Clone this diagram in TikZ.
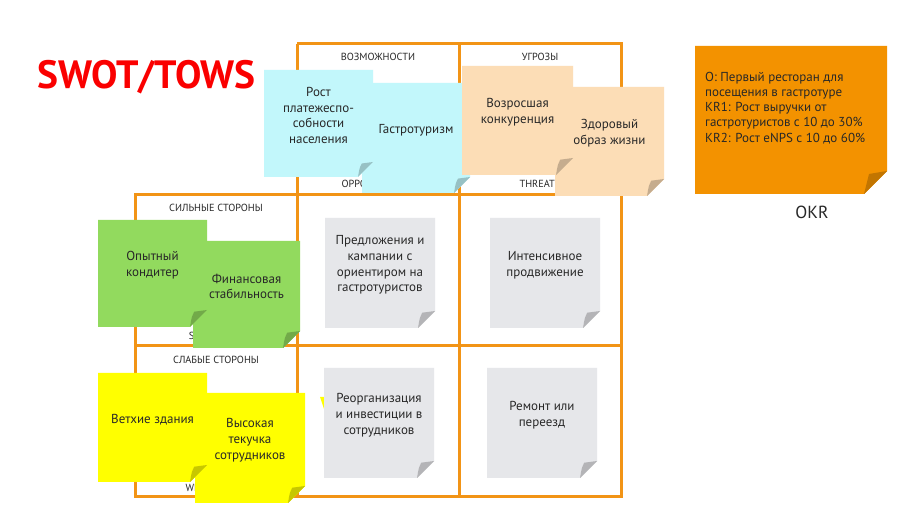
\documentclass[tikz,border=0pt]{standalone}
\usepackage{fontspec}
\setmainfont{PT Sans}
\usepackage{tikz}
\usetikzlibrary{positioning}
\definecolor{gridOrange}{RGB}{242,148,22}
\definecolor{cyanNote}{RGB}{194,247,251}
\definecolor{peachNote}{RGB}{252,221,182}
\definecolor{greenNote}{RGB}{146,218,94}
\definecolor{yellowNote}{RGB}{255,255,0}
\definecolor{greyNote}{RGB}{230,231,234}
\definecolor{okrOrange}{RGB}{243,146,0}
\definecolor{textGrey}{RGB}{40,40,40}
\definecolor{titleRed}{RGB}{250,0,0}
\tikzset{x=1pt,y=-1pt}
\tikzstyle{gridLine}=[draw=gridOrange,line width=3pt]
\tikzstyle{headLabel}=[text=textGrey,inner sep=0pt,font=\fontsize{10.3}{12}\selectfont]
\tikzstyle{noteText}=[text=textGrey,align=center,inner sep=0pt,font=\fontsize{13}{15.8}\selectfont]
% sticky note: name, left, top, right, bottom, fold, colour, text
\newcommand{\sticky}[8]{%
  \fill[#7] (#2,#3) -- (#4,#3) -- (#4,#5-#6) -- (#4-#6,#5) -- (#2,#5) -- cycle;
  \fill[#7!78!black] (#4,#5-#6) -- (#4-0.75*#6,#5-0.9*#6)
    .. controls (#4-0.9*#6,#5-0.6*#6) .. (#4-#6,#5) -- cycle;
  \node at ({(#2+#4)/2},{(#3+#5)/2-8}) [noteText] (#1) {#8};
}

\begin{document}
\begin{tikzpicture}
	\useasboundingbox[fill=white] (0,0) rectangle (919,518);
	% matrix
	\draw[gridLine] (297,44) -- (621,44) -- (621,497) -- (135,497) -- (135,195) -- (621,195);
	\draw[gridLine] (135,346) -- (621,346);
	\draw[gridLine] (297,44) -- (297,497);
	\draw[gridLine] (459,44) -- (459,497);
	\node at (378,57) [headLabel] (oHead) {ВОЗМОЖНОСТИ};
	\node at (540,57) [headLabel] (tHead) {УГРОЗЫ};
	\node at (378,184) [headLabel] (oFoot) {OPPORTUNITIES};
	\node at (540,184) [headLabel] (tFoot) {THREATS};
	\node at (216,208) [headLabel] (sHead) {СИЛЬНЫЕ СТОРОНЫ};
	\node at (216,336) [headLabel] (sFoot) {STRENGTHS};
	\node at (216,360) [headLabel] (wHead) {СЛАБЫЕ СТОРОНЫ};
	\node at (216,488) [headLabel] (wFoot) {WEAKNESSES};
	% opportunities and threats
	\sticky{o2}{362}{83}{470}{193}{16}{cyanNote}{Гастротуризм}
	\sticky{o1}{264}{70}{373}{177}{15}{cyanNote}{Рост\\платежеспо-\\собности\\населения}
	\sticky{t2}{555}{87}{664}{196}{17}{peachNote}{Здоровый\\образ жизни}
	\sticky{t1}{462}{66}{573}{175}{17}{peachNote}{Возросшая\\конкуренция}
	% strengths and weaknesses
	\sticky{s2}{193}{241}{300}{348}{17}{greenNote}{Финансовая\\стабильность}
	\sticky{s1}{98}{220}{207}{327}{17}{greenNote}{Опытный\\кондитер}
	\sticky{w2}{195}{393}{305}{503}{17}{yellowNote}{Высокая\\текучка\\сотрудников}
	\sticky{w1}{98}{373}{207}{482}{17}{yellowNote}{Ветхие здания}
	% strategies
	\fill[yellowNote] (320,397) -- (325,397) -- (325,412) -- cycle;
	\sticky{so}{325}{218}{435}{328}{17}{greyNote}{Предложения и\\кампании с\\ориентиром на\\гастротуристов}
	\sticky{st}{490}{218}{600}{328}{17}{greyNote}{Интенсивное\\продвижение}
	\sticky{wo}{324}{368}{434}{478}{17}{greyNote}{Реорганизация\\и инвестиции в\\сотрудников}
	\sticky{wt}{487}{368}{597}{478}{17}{greyNote}{Ремонт или\\переезд}
	% okr
	\fill[okrOrange] (695,46) -- (887,46) -- (887,171) -- (864,194) -- (695,194) -- cycle;
	\fill[okrOrange!80!black] (887,171) -- (869,174) .. controls (867,182) .. (864,194) -- cycle;
	\node at (705,108) [anchor=west,align=left,text=textGrey,inner sep=0pt,
		font=\fontsize{13}{15.2}\selectfont] (okrText)
		{О: Первый ресторан для\\посещения в гастротуре\\KR1: Рост выручки от\\гастротуристов с 10 до 30\%\\KR2: Рост eNPS с 10 до 60\%};
	\node at (812,212) [text=textGrey,inner sep=0pt,font=\fontsize{17.5}{20}\selectfont] (okr) {OKR};
	% title
	\node at (37,77) [anchor=west,inner sep=0pt,text=titleRed,
		font=\fontsize{39.5}{44}\selectfont\bfseries] (title) {SWOT/TOWS};
\end{tikzpicture}
\end{document}
